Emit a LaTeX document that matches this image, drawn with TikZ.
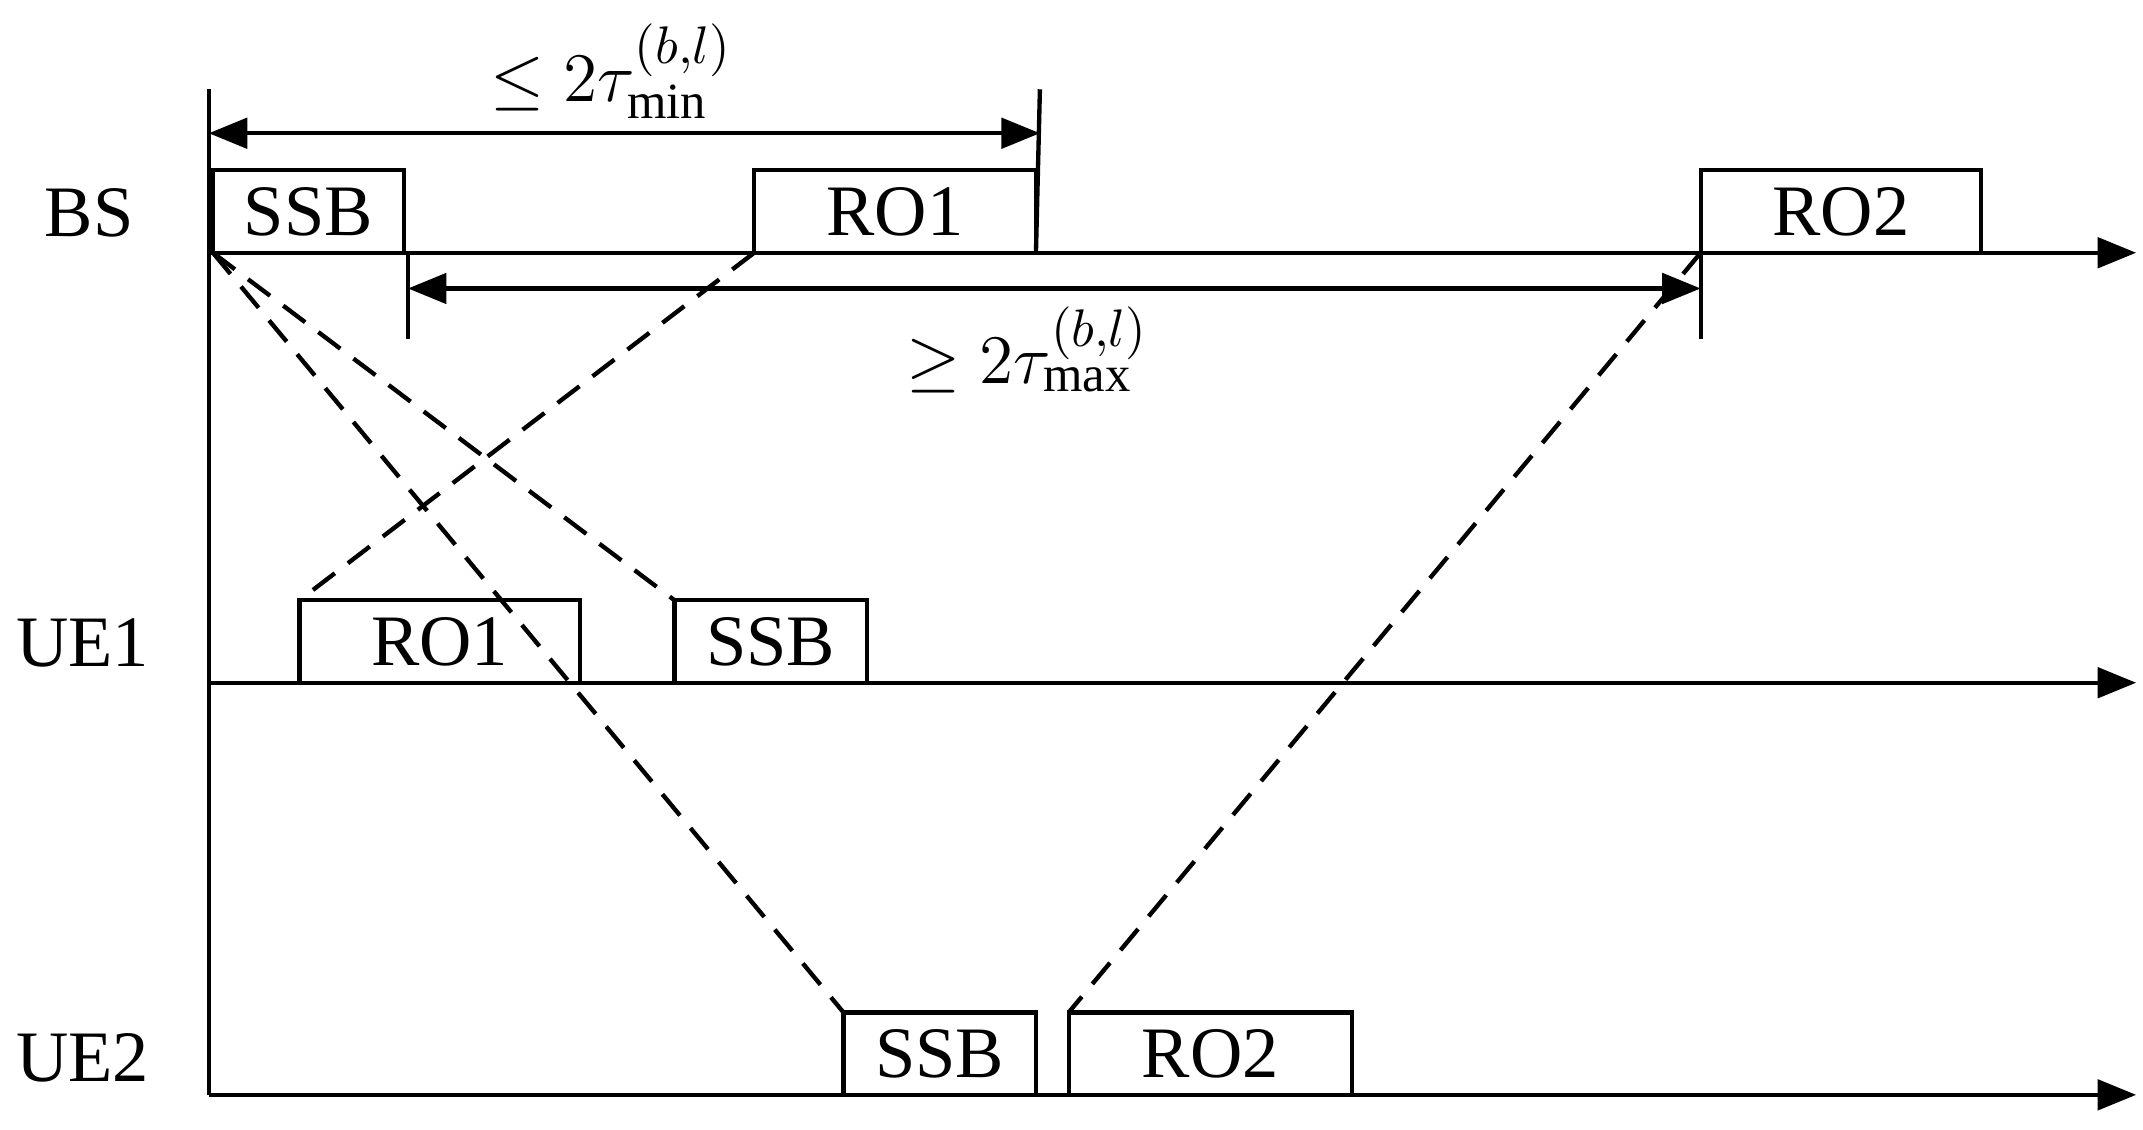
\documentclass[tikz,border=0pt]{standalone}
\usepackage{fontspec}
\setmainfont{Liberation Serif}
\usetikzlibrary{arrows.meta}
\begin{document}
\begin{tikzpicture}[x=0.01cm,y=-0.01cm,line width=0.9pt,
  box/.style={draw,line width=0.9pt,minimum height=0.6cm,inner sep=0pt,outer sep=0pt,anchor=south west,font=\fontsize{15}{18}\selectfont},
  lbl/.style={font=\fontsize{15}{18}\selectfont},
  ax/.style={-{Triangle[length=0.28cm,width=0.22cm]}},
  dim/.style={{Triangle[length=0.28cm,width=0.22cm]}-{Triangle[length=0.28cm,width=0.22cm]}},
  dsh/.style={dashed,dash pattern=on 0.2cm off 0.12cm}]
\useasboundingbox (0,0) rectangle (1560,822);
\coordinate (o) at (152,184); \coordinate (top) at (152,65); \coordinate (bot) at (152,797);
\coordinate (bsE) at (1555,184); \coordinate (u1) at (152,497); \coordinate (u1E) at (1555,497);
\coordinate (u2E) at (1555,797);
\draw (top) -- (bot);
\draw[ax] (o) -- (bsE);
\draw[ax] (u1) -- (u1E);
\draw[ax] (bot) -- (u2E);
\node[lbl] (bs) at (65,155) {BS};
\node[lbl] (ue1) at (60,468) {UE1};
\node[lbl] (ue2) at (60,770) {UE2};
% BS boxes
\node[box,minimum width=1.39cm] (bssb) at (155,184) {SSB};
\node[box,minimum width=2.05cm] (bro1) at (549,184) {RO1};
\node[box,minimum width=2.04cm] (bro2) at (1238,184) {RO2};
% UE1
\node[box,minimum width=2.04cm] (uro1) at (218,497) {RO1};
\node[box,minimum width=1.40cm] (ussb) at (491,497) {SSB};
% UE2
\node[box,minimum width=1.40cm] (vssb) at (614,797) {SSB};
\node[box,minimum width=2.06cm] (vro2) at (778,797) {RO2};
% dims
\coordinate (t1) at (757,65); \coordinate (t2a) at (297,184); \coordinate (t2b) at (297,247);
\coordinate (t3a) at (1238,184); \coordinate (t3b) at (1238,247);
\draw (t1) -- (bro1.south east);
\draw (t2a) -- (t2b); \draw (t3a) -- (t3b);
\coordinate (d1a) at (152,97); \coordinate (d1b) at (757,97);
\coordinate (d2a) at (297,210); \coordinate (d2b) at (1238,210);
\draw[dim] (d1a) -- (d1b);
\draw[dim] (d2a) -- (d2b);
\node[lbl] (l1) at (445,52) {$\leq 2\tau_{\min}^{(b,l)}$};
\node[lbl] (l2) at (748,255) {$\geq 2\tau_{\max}^{(b,l)}$};
% dashed
\draw[dsh] (bssb.south west) -- (ussb.north west);
\draw[dsh] (bssb.south west) -- (vssb.north west);
\draw[dsh] (bro1.south west) -- (uro1.north west);
\draw[dsh] (bro2.south west) -- (vro2.north west);
\end{tikzpicture}
\end{document}
